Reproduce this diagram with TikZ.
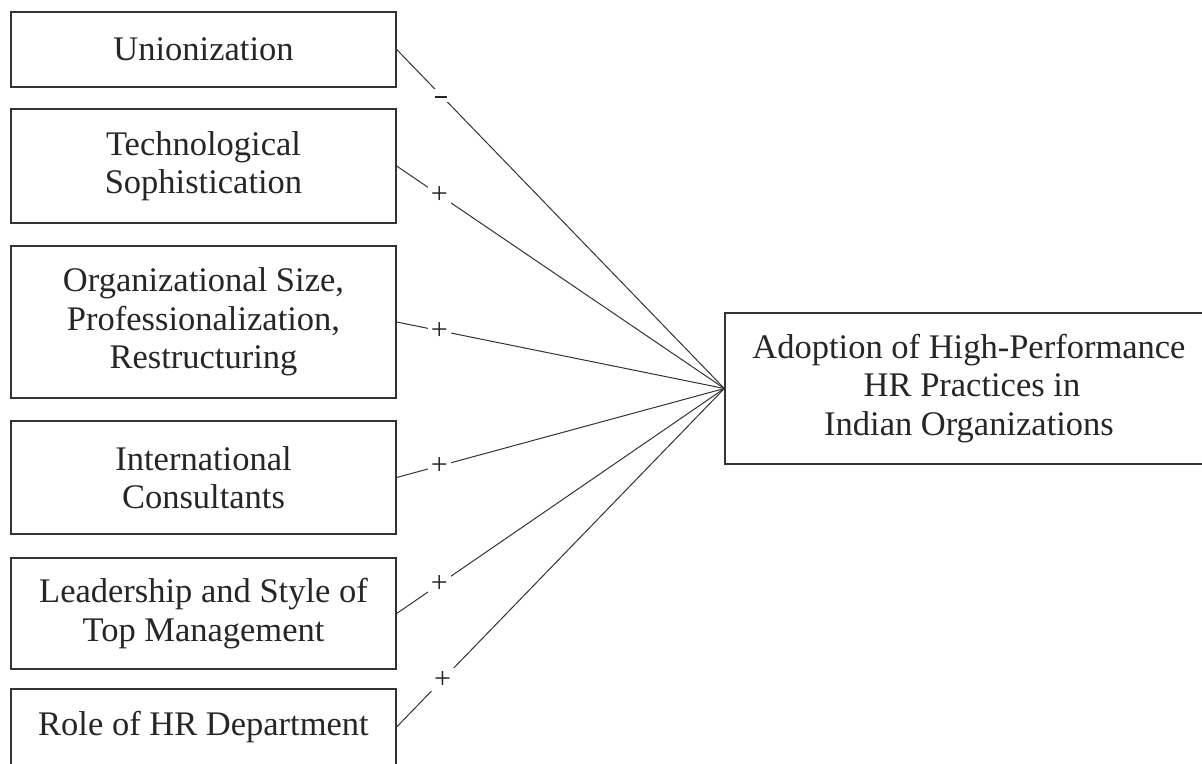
\documentclass[tikz,border=0pt]{standalone}
\usepackage{fontspec}
\setmainfont{Liberation Serif}
\usepackage{tikz}
\begin{document}
\begin{tikzpicture}[x=1pt,y=-1pt,
  factor/.style={draw=black!80, line width=1.3pt, minimum width=385pt, align=center,
    inner sep=0pt, font=\fontsize{34.5}{38.5}\selectfont, text=black!85},
  link/.style={draw=black!80, line width=1pt},
  sign/.style={fill=white, inner sep=3pt, font=\fontsize{30}{32}\selectfont, text=black!85, pos=0.13}
]
\useasboundingbox (0,0) rectangle (1202,763);

% determinant boxes on the left
\node[factor, minimum height=75pt]  (uni)  at (203.5,49.5)  {Unionization};
\node[factor, minimum height=114pt] (tech) at (203.5,166)   {Technological\\Sophistication};
\node[factor, minimum height=152pt] (size) at (203.5,322)   {Organizational Size,\\Professionalization,\\Restructuring};
\node[factor, minimum height=113pt] (cons) at (203.5,477.5) {International\\Consultants};
\node[factor, minimum height=111pt] (lead) at (203.5,613.5) {Leadership and Style of\\Top Management};
\node[factor, minimum height=76pt]  (hrd)  at (203.5,727)   {Role of HR Department};

% outcome box on the right
\node[factor, minimum width=500pt, minimum height=151pt] (hpwp) at (975,388.5)
  {\hspace*{-6pt}Adoption of High-Performance\hspace*{6pt}\\\hspace*{-6pt}HR Practices in\hspace*{6pt}\\\hspace*{-6pt}Indian Organizations\hspace*{6pt}};

% signed links into the outcome
\draw[link] (uni.east)  -- node[sign, pos=0.135, inner sep=4pt] {\rule[-5pt]{12pt}{1.5pt}} (hpwp.west);
\draw[link] (tech.east) -- node[sign] {+} (hpwp.west);
\draw[link] (size.east) -- node[sign] {+} (hpwp.west);
\draw[link] (cons.east) -- node[sign] {+} (hpwp.west);
\draw[link] (lead.east) -- node[sign] {+} (hpwp.west);
\draw[link] (hrd.east)  -- node[sign, pos=0.14] {+} (hpwp.west);
\end{tikzpicture}
\end{document}
